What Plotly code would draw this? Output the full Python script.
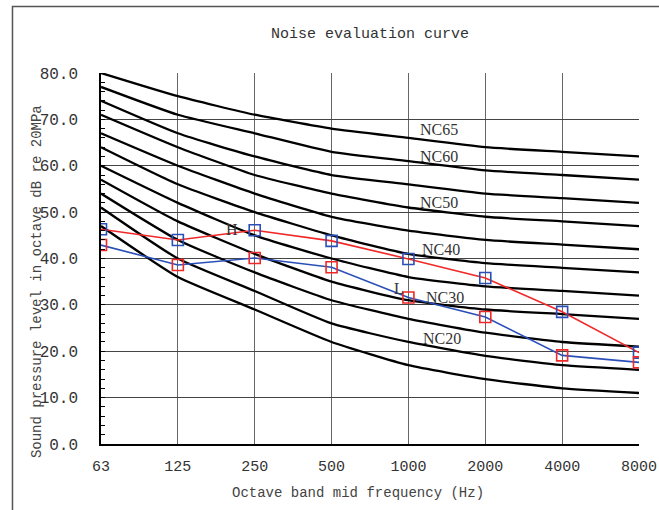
import plotly.graph_objects as go

# octave band centre frequencies (Hz)
freqs = ["63", "125", "250", "500", "1000", "2000", "4000", "8000"]

# NC curves, dB per band
nc_names = ["NC15", "NC20", "NC25", "NC30", "NC35", "NC40", "NC45", "NC50", "NC55", "NC60", "NC65"]
nc15 = [47, 36, 29, 22, 17, 14, 12, 11]
nc20 = [51, 40, 33, 26, 22, 19, 17, 16]
nc25 = [54, 44, 37, 31, 27, 24, 22, 21]
nc30 = [57, 48, 41, 35, 31, 29, 28, 27]
nc35 = [60, 52, 45, 40, 36, 34, 33, 32]
nc40 = [64, 56, 50, 45, 41, 39, 38, 37]
nc45 = [67, 60, 54, 49, 46, 44, 43, 42]
nc50 = [71, 64, 58, 54, 51, 49, 48, 47]
nc55 = [74, 67, 62, 58, 56, 54, 53, 52]
nc60 = [77, 71, 67, 63, 61, 59, 58, 57]
nc65 = [80, 75, 71, 68, 66, 64, 63, 62]
nc_curves = [nc15, nc20, nc25, nc30, nc35, nc40, nc45, nc50, nc55, nc60, nc65]

# measured spectra
level_h = [46.3, 44.0, 46.1, 43.8, 39.9, 35.8, 28.5, 19.7]
level_l = [42.9, 38.6, 40.1, 38.1, 31.6, 27.4, 19.1, 17.6]

# curve labels: (text, band position, level)
nc_labels = [("NC65", 4.4, 67.8), ("NC60", 4.4, 61.9), ("NC50", 4.4, 52.0),
             ("NC40", 4.42, 41.9), ("NC30", 4.48, 31.6), ("NC20", 4.44, 22.8)]
series_labels = [("H", 1.70, 46.3), ("L", 3.88, 33.6)]

MONO = "Liberation Mono"
SERIF = "Liberation Serif"
RED = "#F02828"
BLUE = "#2A50B8"

xs = list(range(len(freqs)))
fig = go.Figure()

for name, vals in zip(nc_names, nc_curves):
    fig.add_trace(go.Scatter(x=xs, y=vals, mode="lines", name=name,
                             line=dict(color="black", width=2.3, shape="spline", smoothing=0.5),
                             showlegend=False, hoverinfo="skip"))

# H line is red with blue markers, L line is blue with red markers
fig.add_trace(go.Scatter(x=xs, y=level_h, mode="lines+markers", name="H",
                         line=dict(color=RED, width=1.6),
                         marker=dict(symbol="square-open", size=11, color=BLUE,
                                     line=dict(color=BLUE, width=1.6)),
                         showlegend=False))
fig.add_trace(go.Scatter(x=xs, y=level_l, mode="lines+markers", name="L",
                         line=dict(color=BLUE, width=1.6),
                         marker=dict(symbol="square-open", size=11, color=RED,
                                     line=dict(color=RED, width=1.6)),
                         showlegend=False))

for txt, x, y in nc_labels + series_labels:
    fig.add_annotation(x=x, y=y, text=txt, showarrow=False,
                       font=dict(family=SERIF, size=16, color="#333"))

# axis titles
fig.add_annotation(xref="paper", yref="paper", x=0.478, y=-0.132,
                   xanchor="center", yanchor="middle",
                   text="Octave band mid frequency (Hz)", showarrow=False,
                   font=dict(family=MONO, size=14, color="#444"))
fig.add_annotation(xref="paper", yref="paper", x=-0.119, y=0.439, textangle=-90,
                   xanchor="center", yanchor="middle",
                   text="Sound pressure level in octave dB re 20MPa", showarrow=False,
                   font=dict(family=MONO, size=14, color="#444"))

# outer frame
fig.add_shape(type="rect", xref="paper", yref="paper",
              x0=-0.1645, y0=-0.3, x1=1.2, y1=1.1795,
              line=dict(color="#555", width=1.5))

fig.update_layout(
    width=659, height=510,
    margin=dict(l=101, r=20, t=73, b=66),
    paper_bgcolor="white", plot_bgcolor="white",
    title=dict(text="Noise evaluation curve", x=0.5, xref="paper", y=1 - 33 / 510,
               yanchor="middle", font=dict(family=MONO, size=15, color="#333")),
    xaxis=dict(range=[0, 7], tickvals=xs, ticktext=freqs, showgrid=True,
               gridcolor="#666", gridwidth=1, showline=True, linecolor="black", linewidth=1.5,
               ticks="", ticklabelstandoff=7, zeroline=False, automargin=False,
               tickfont=dict(family=MONO, size=15, color="#333")),
    yaxis=dict(range=[0, 80], dtick=10, tickformat=".1f", showgrid=True,
               gridcolor="#444", gridwidth=1, showline=True, linecolor="black", linewidth=1.5,
               ticks="inside", ticklen=4, tickcolor="black", ticklabelstandoff=18,
               minor=dict(dtick=2, ticks="inside", ticklen=4, tickcolor="black", showgrid=False),
               zeroline=False, automargin=False, tickfont=dict(family=MONO, size=16, color="#333")),
)

fig.write_html("out.html", config={"displayModeBar": False},
               post_script="document.body.style.margin='0';")
